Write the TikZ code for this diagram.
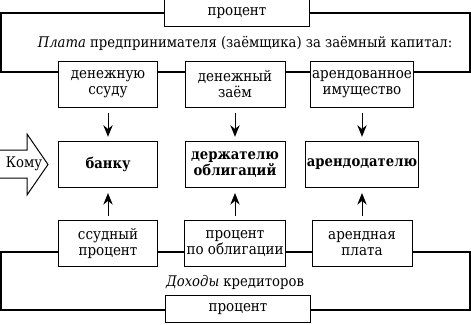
\documentclass[tikz,border=0pt]{standalone}
\usepackage{fontspec}
\setmainfont{DejaVu Serif Condensed}
\usetikzlibrary{arrows.meta}

\begin{document}
\begin{tikzpicture}[
    x=0.6pt, y=-0.6pt,
    >={Stealth[length=7pt, width=5.6pt]},
    frame/.style = {line width=1pt},
    line/.style  = {semithick},
    block/.style = {draw, line width=0.6pt, fill=white, align=center,
                    minimum width=60pt, minimum height=27.6pt, inner sep=1pt,
                    font=\fontsize{9}{10}\selectfont},
    hold/.style  = {block, font=\fontsize{8.8}{10}\selectfont\bfseries},
    tag/.style   = {draw, line width=0.6pt, fill=white,
                    minimum width=87pt, minimum height=16pt, inner sep=1pt,
                    font=\fontsize{9}{10}\selectfont},
    txt/.style   = {font=\fontsize{8.8}{10}\selectfont}
]

% Outer frames (payer above, creditors below)
\useasboundingbox (0,0) rectangle (471,324);
\coordinate (ftl) at (1,13);
\coordinate (fbr) at (470,72);
\coordinate (gtl) at (1,252);
\coordinate (gbr) at (470,310);
\draw[frame] (ftl) rectangle (fbr);
\draw[frame] (gtl) rectangle (gbr);

% Frame captions
\node[tag] (ptop) at (237,13) {процент};
\node[txt] (plata) at (245,43) {\textit{Плата} предпринимателя (заёмщика) за заёмный капитал:};
\node[tag] (pbot) at (238,309) {процент};
\node[txt] (dohod) at (235,282) {\textit{Доходы} кредиторов};

% What is paid for
\node[block] (ssuda) at (108,84)  {денежную\\ссуду};
\node[block] (zaem)  at (235,84)  {денежный\\заём};
\node[block] (imush) at (362,84)  {арендованное\\имущество};

% To whom
\node[hold] (bank)  at (108,164.5) {банку};
\node[hold] (derzh) at (235,164.5) {держателю\\облигаций};
\node[hold] (arend) at (362,164.5) {арендодателю};

% Creditor income
\node[block] (ssproc) at (108,243.5) {ссудный\\процент};
\node[block] (oblig)  at (235,243.5) {процент\\по облигации};
\node[block] (aplata) at (362,243.5) {арендная\\плата};

% Downward and upward arrows
\draw[->, line, shorten <=3pt, shorten >=2.5pt] (ssuda.south) -- (bank.north);
\draw[->, line, shorten <=3pt, shorten >=2.5pt] (zaem.south)  -- (derzh.north);
\draw[->, line, shorten <=3pt, shorten >=2.5pt] (imush.south) -- (arend.north);
\draw[->, line, shorten <=2.5pt, shorten >=3pt] (ssproc.north) -- (bank.south);
\draw[->, line, shorten <=2.5pt, shorten >=3pt] (oblig.north)  -- (derzh.south);
\draw[->, line, shorten <=2.5pt, shorten >=3pt] (aplata.north) -- (arend.south);

% Block arrow "Кому"
\draw[line width=0.6pt] (0,150) -- (27,150) -- (27,134) -- (48,164.5)
    -- (27,195) -- (27,178) -- (0,178);
\node[txt, inner sep=0pt] (komu) at (24,164) {Кому};

\end{tikzpicture}
\end{document}
